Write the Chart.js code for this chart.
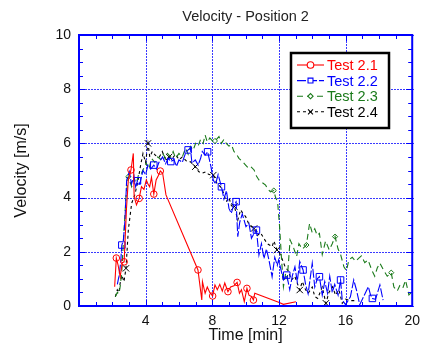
<!DOCTYPE html>
<html>
<head>
<meta charset="utf-8">
<script src="https://cdn.jsdelivr.net/npm/chart.js@4"></script>
<style>
  html, body { margin: 0; padding: 0; background: #fff; }
</style>
</head>
<body>
<canvas id="chart" width="427" height="349"></canvas>
<script>
// Daten (Zeit in min, Geschwindigkeit in m/s)
const chartTitle = "Velocity - Position 2";
const seriesNames = ["Test 2.1", "Test 2.2", "Test 2.3", "Test 2.4"];
const xTicks = [4, 8, 12, 16, 20];
const yTicks = [0, 2, 4, 6, 8, 10];

const t21 = [2.14, 2.24, 2.35, 2.47, 2.60, 2.71, 2.85, 2.96, 3.12, 3.26, 3.31, 3.45, 3.61, 3.75, 3.90, 4.04, 4.14, 4.24, 4.35, 4.49, 4.63, 4.75, 4.88, 5.02, 5.22,
  7.14, 7.37, 7.41, 7.57, 7.70, 7.85, 8.02, 8.16, 8.30, 8.45, 8.60, 8.75, 8.94, 9.10, 9.30, 9.49, 9.63, 9.75, 9.92, 10.08, 10.20, 10.35, 10.47, 10.55, 11.98, 12.27, 13.02];
const v21 = [0.71, 1.77, 1.50, 1.08, 1.60, 1.63, 3.60, 4.65, 5.02, 5.63, 4.03, 3.73, 3.97, 4.40, 4.30, 4.65, 4.50, 4.40, 4.75, 4.13, 4.65, 4.80, 4.98, 4.90, 4.10,
  1.33, 0.22, 0.90, 0.47, 0.70, 0.50, 0.37, 0.78, 0.60, 0.80, 0.55, 0.85, 0.53, 0.70, 0.75, 0.87, 0.47, 0.60, 0.16, 0.65, 0.40, 0.35, 0.22, 0.47, 0.14, 0.06, 0.16];

const t22 = [2.30, 2.40, 2.50, 2.57, 2.66, 2.76, 2.86, 3.02, 3.15, 3.30, 3.40, 3.51, 3.65, 3.84, 4.00, 4.14, 4.30, 4.49, 4.65, 4.80, 5.02, 5.20, 5.35, 5.51, 5.70, 5.85,
  6.00, 6.20, 6.40, 6.55, 6.69, 6.78, 6.98, 7.15, 7.30, 7.40, 7.57, 7.72, 7.92, 8.06, 8.20, 8.35, 8.55, 8.70, 8.85, 9.00, 9.14, 9.30, 9.43, 9.53, 9.65, 9.80,
  10.02, 10.20, 10.35, 10.51, 10.65, 10.80, 10.95, 11.10, 11.25, 11.40, 11.59, 11.75, 11.90, 11.98, 12.10, 12.27, 12.47, 12.65, 12.80, 12.96, 13.10, 13.25,
  13.45, 13.60, 13.75, 14.00, 14.15, 14.30, 14.43, 14.60, 14.75, 14.92, 15.05, 15.20, 15.35, 15.55, 15.70, 15.80, 16.00, 16.29, 16.49, 16.65, 16.85, 17.18,
  17.37, 17.50, 17.61, 17.80, 18.06, 18.25];
const v22 = [0.80, 1.10, 1.60, 2.25, 2.40, 3.17, 4.65, 4.95, 4.50, 4.80, 4.40, 4.62, 4.50, 5.00, 4.85, 5.20, 5.05, 5.20, 5.05, 5.30, 5.50, 5.25, 5.45, 5.33, 5.40, 5.15,
  5.39, 5.30, 5.65, 5.76, 5.82, 5.27, 5.39, 5.20, 5.45, 5.70, 5.57, 5.69, 5.14, 4.65, 4.50, 4.85, 4.40, 3.95, 4.25, 3.60, 3.42, 3.75, 3.85, 2.56, 3.10, 3.40,
  2.93, 3.05, 2.50, 2.68, 2.80, 1.88, 2.30, 1.75, 2.10, 1.70, 1.08, 1.80, 1.50, 1.70, 1.40, 0.96, 1.14, 0.60, 1.10, 1.45, 0.90, 1.64,
  1.33, 0.80, 0.45, 1.58, 0.70, 1.00, 1.08, 0.40, 0.90, 0.47, 1.10, 0.50, 0.80, 0.40, 0.96, 0.22, 0.05, 0.34, 0.96, 0.60, 0.05, 0.47,
  0.71, 0.40, 0.28, 0.25, 0.78, 0.22];

const t23 = [2.18, 2.30, 2.40, 2.47, 2.57, 2.67, 2.82, 2.96, 3.16, 3.30, 3.45, 3.60, 3.75, 3.90, 4.04, 4.20, 4.35, 4.55, 4.73, 4.90, 5.05, 5.20, 5.31, 5.50, 5.65, 5.80,
  6.00, 6.20, 6.39, 6.55, 6.69, 6.85, 7.00, 7.14, 7.30, 7.45, 7.57, 7.70, 7.85, 8.00, 8.16, 8.40, 8.55, 8.70, 8.84, 9.00, 9.15, 9.30, 9.43, 9.60, 9.82,
  10.00, 10.15, 10.30, 10.51, 10.65, 10.80, 11.00, 11.20, 11.35, 11.49, 11.69, 11.80, 11.92, 12.04, 12.15, 12.27, 12.40, 12.50, 12.67, 12.85, 13.06, 13.20,
  13.40, 13.65, 13.75, 13.84, 14.00, 14.15, 14.30, 14.43, 14.60, 14.80, 15.02, 15.20, 15.37, 15.55, 15.70, 15.90, 16.05, 16.20, 16.40, 16.60, 16.78, 16.95,
  17.15, 17.35, 17.57, 17.75, 17.90, 18.06, 18.30, 18.50, 18.74, 18.90, 19.10, 19.25, 19.43, 19.60, 19.80, 19.95];
const v23 = [0.34, 0.50, 0.45, 0.71, 1.30, 2.44, 4.03, 4.77, 4.40, 4.70, 4.55, 4.90, 4.90, 5.10, 5.27, 5.05, 5.45, 5.30, 5.50, 5.40, 5.60, 5.45, 5.63, 5.50, 5.70, 5.45,
  5.63, 5.50, 5.82, 5.60, 5.89, 5.75, 6.00, 5.89, 6.15, 6.00, 6.31, 6.05, 6.20, 6.10, 6.09, 6.25, 6.00, 6.15, 6.00, 5.90, 5.95, 5.70, 5.63, 5.45, 5.32,
  5.20, 5.10, 5.15, 5.02, 4.80, 4.65, 4.55, 4.46, 4.30, 4.21, 4.26, 4.00, 3.85, 2.93, 1.80, 0.71, 1.20, 1.00, 2.44, 2.20, 1.82, 2.30,
  2.10, 2.25, 2.68, 3.05, 2.70, 2.85, 2.60, 2.68, 1.90, 2.40, 2.07, 2.30, 2.56, 2.10, 1.90, 1.45, 1.30, 1.70, 1.80, 1.65, 1.76, 1.85,
  1.60, 1.70, 1.33, 1.10, 1.40, 1.58, 1.30, 1.10, 1.23, 0.70, 0.55, 0.75, 0.65, 0.95, 0.41, 0.50];

const t24 = [2.18, 2.30, 2.40, 2.47, 2.57, 2.70, 2.82, 2.96, 3.16, 3.35, 3.55, 3.70, 3.84, 4.00, 4.14, 4.25, 4.40, 4.60, 4.82, 5.00, 5.20, 5.41, 5.60, 5.80,
  6.00, 6.20, 6.45, 6.69, 6.98, 7.18, 7.40, 7.60, 7.80, 8.06, 8.30, 8.50, 8.65, 8.84, 9.00, 9.15, 9.33, 9.53, 9.70, 9.85, 10.00, 10.22, 10.51, 10.70, 10.90,
  11.10, 11.30, 11.59, 11.70, 11.88, 12.00, 12.15, 12.37, 12.55, 12.76, 12.95, 13.25, 13.40, 13.60, 13.75, 14.00, 14.15, 14.33, 14.60, 14.82, 15.00, 15.22,
  15.40, 15.60, 15.80, 16.00, 16.30, 16.60];
const v24 = [0.34, 0.60, 0.50, 0.84, 1.14, 0.90, 1.39, 2.80, 3.79, 4.10, 4.65, 5.20, 5.63, 5.30, 6.00, 5.50, 5.70, 5.55, 5.50, 5.70, 5.40, 5.50, 5.45, 5.60,
  5.40, 5.50, 5.35, 5.32, 5.14, 4.96, 4.90, 4.95, 4.85, 4.83, 4.50, 4.40, 4.21, 3.85, 4.00, 3.70, 3.67, 3.17, 3.55, 3.40, 3.30, 2.99, 2.86, 2.60, 2.70,
  2.49, 2.30, 2.19, 2.40, 2.07, 2.00, 1.80, 1.45, 1.30, 0.96, 1.10, 0.59, 0.90, 0.60, 0.47, 0.70, 0.35, 0.28, 0.70, 0.10, 0.50, 0.71,
  0.40, 0.60, 0.10, 0.25, 0.20, 0.20];

// Zeitpunkte mit Marker
const mark21 = [2.24, 2.71, 3.12, 3.61, 4.49, 4.88, 7.14, 8.02, 8.94, 9.49, 10.08, 10.47];
const mark22 = [2.57, 3.51, 4.49, 5.51, 6.55, 7.72, 8.55, 9.43, 10.65, 12.47, 13.45, 14.43, 15.70, 17.61];
const mark23 = [2.96, 8.16, 11.69, 13.65, 15.37, 18.74];
const mark24 = [2.82, 4.14, 5.41, 6.98, 8.06, 9.33, 10.51, 11.88, 13.25, 14.82];

const toPoints = (ts, vs) => ts.map((t, i) => ({ x: t, y: vs[i] }));

const styles = [
  { color: "#ff0000", dash: [], marker: "circle", r: 3.3, marks: mark21, t: t21, v: v21 },
  { color: "#0000ff", dash: [9, 2], marker: "rect", r: 4.6, marks: mark22, t: t22, v: v22 },
  { color: "#1a7a1a", dash: [6, 4], marker: "rectRot", r: 2.6, marks: mark23, t: t23, v: v23 },
  { color: "#000000", dash: [3, 3], marker: "crossRot", r: 4.5, marks: mark24, t: t24, v: v24 },
];

const datasets = styles.map((s, i) => ({
  label: seriesNames[i],
  data: toPoints(s.t, s.v),
  borderColor: s.color,
  borderWidth: 1.1,
  borderDash: s.dash,
  pointStyle: s.marker,
  pointRadius: (c) => (s.marks.includes(s.t[c.dataIndex]) ? s.r : 0),
  pointBorderColor: s.color,
  pointBackgroundColor: "rgba(0,0,0,0)",
  pointBorderWidth: 1,
  tension: 0,
}));

const blue = "#0000ff";
const gridBlue = "#3a3aff";
const font = "'Liberation Sans', Arial, sans-serif";

// gepunktete Gitterlinien, selbst gezeichnet damit sie scharf bleiben
const gridPlugin = {
  id: "gridPlugin",
  beforeDatasetsDraw(chart) {
    const { ctx, chartArea: a, scales: { x, y } } = chart;
    ctx.save();
    ctx.fillStyle = gridBlue;
    xTicks.forEach((t) => {
      const px = Math.round(x.getPixelForValue(t));
      for (let py = a.top; py < a.bottom; py += 3) ctx.fillRect(px, py, 1, 2);
    });
    yTicks.forEach((v) => {
      const py = Math.round(y.getPixelForValue(v));
      for (let px = a.left; px < a.right; px += 3) ctx.fillRect(px, py, 2, 1);
    });
    ctx.restore();
  },
};

// Rahmen, Ticks nach innen, Titel und Legende
const framePlugin = {
  id: "framePlugin",
  afterDraw(chart) {
    const { ctx, chartArea: a, scales: { x, y } } = chart;
    ctx.save();
    ctx.strokeStyle = blue;
    ctx.lineWidth = 1;
    ctx.beginPath();
    for (let t = 0; t <= 20; t += 1) {
      const px = Math.round(x.getPixelForValue(t)) + 0.5;
      const len = t % 4 === 0 ? 6 : 4;
      ctx.moveTo(px, a.bottom); ctx.lineTo(px, a.bottom - len);
      ctx.moveTo(px, a.top); ctx.lineTo(px, a.top + len);
    }
    for (let v = 0; v <= 10; v += 0.5) {
      const py = Math.round(y.getPixelForValue(v)) + 0.5;
      const len = v % 2 === 0 ? 6 : 4;
      ctx.moveTo(a.left, py); ctx.lineTo(a.left + len, py);
      ctx.moveTo(a.right, py); ctx.lineTo(a.right - len, py);
    }
    ctx.stroke();
    ctx.lineWidth = 2;
    ctx.strokeRect(a.left, a.top, a.right - a.left, a.bottom - a.top);

    // Titel
    ctx.fillStyle = "#222";
    ctx.font = "14.5px " + font;
    ctx.textAlign = "center";
    ctx.textBaseline = "middle";
    ctx.fillText(chartTitle, (a.left + a.right) / 2, 17);

    // Legende
    const bx = 291, by = 53, bw = 98, bh = 75;
    ctx.fillStyle = "#fff";
    ctx.fillRect(bx, by, bw, bh);
    ctx.strokeStyle = "#000";
    ctx.lineWidth = 2.5;
    ctx.strokeRect(bx, by, bw, bh);
    ctx.font = "14.5px " + font;
    ctx.textAlign = "left";
    styles.forEach((s, i) => {
      const ly = by + 12 + i * 15.6;
      ctx.strokeStyle = s.color;
      ctx.lineWidth = 1.1;
      ctx.setLineDash(s.dash);
      ctx.beginPath();
      ctx.moveTo(bx + 6, ly);
      ctx.lineTo(bx + 33, ly);
      ctx.stroke();
      ctx.setLineDash([]);
      ctx.fillStyle = "#fff";
      Chart.helpers.drawPoint(ctx, { pointStyle: s.marker, radius: Math.min(s.r, 3.5), borderWidth: 1 }, bx + 19.5, ly);
      ctx.fillStyle = s.color;
      ctx.fillText(seriesNames[i], bx + 36, ly + 1);
    });
    ctx.restore();
  },
};

new Chart(document.getElementById("chart"), {
  type: "line",
  data: { datasets },
  options: {
    responsive: false,
    animation: false,
    layout: { padding: { top: 35, right: 9, left: 0, bottom: 0 } },
    plugins: { legend: { display: false }, tooltip: { enabled: false } },
    scales: {
      x: {
        type: "linear",
        min: 0,
        max: 20,
        afterFit: (s) => { s.height = 43; },
        afterBuildTicks: (s) => { s.ticks = [0, ...xTicks].map((v) => ({ value: v })); },
        ticks: {
          color: "#111",
          font: { size: 14, family: font },
          padding: 7,
          maxRotation: 0,
          callback: (v) => (v === 0 ? "" : v),
        },
        grid: { display: false, drawTicks: false },
        border: { display: false },
        title: {
          display: true,
          text: "Time [min]",
          color: "#111",
          font: { size: 16, family: font },
          padding: { top: 0, bottom: 4 },
        },
      },
      y: {
        min: 0,
        max: 10,
        afterFit: (s) => { s.width = 79; },
        afterBuildTicks: (s) => { s.ticks = yTicks.map((v) => ({ value: v })); },
        ticks: {
          color: "#111",
          font: { size: 14, family: font },
          padding: 8,
        },
        grid: { display: false, drawTicks: false },
        border: { display: false },
        title: {
          display: true,
          text: "Velocity [m/s]",
          color: "#111",
          font: { size: 16, family: font },
          padding: { top: 12, bottom: 0 },
        },
      },
    },
  },
  plugins: [gridPlugin, framePlugin],
});
</script>
</body>
</html>
